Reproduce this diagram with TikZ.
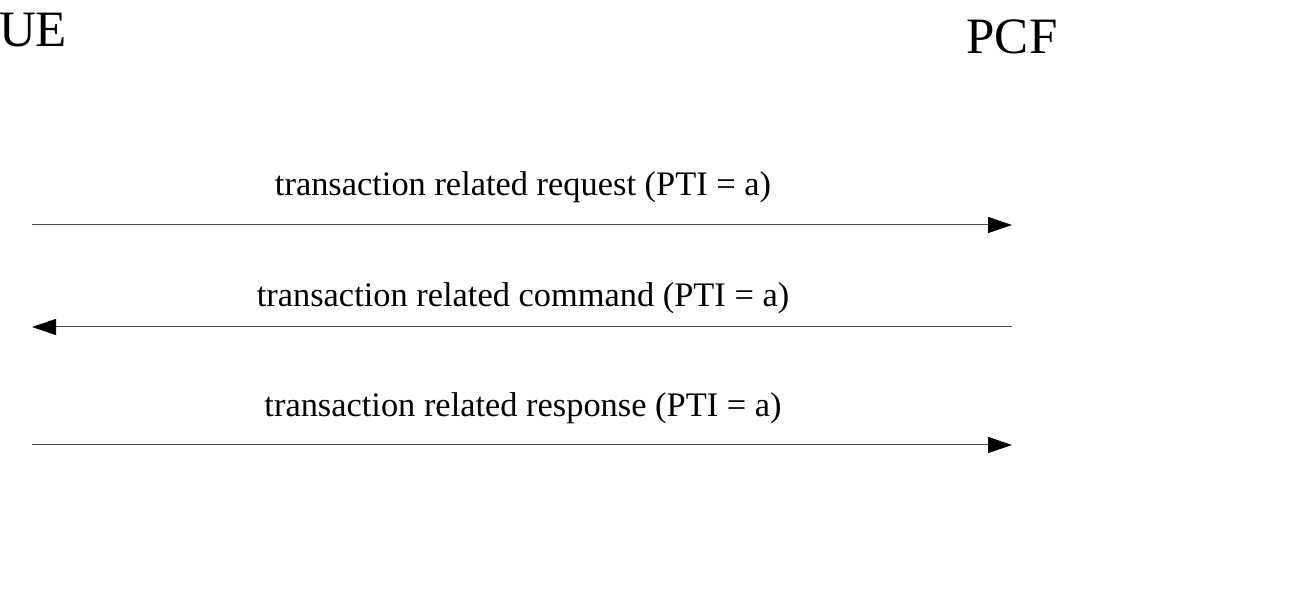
\documentclass[tikz,border=0pt]{standalone}
\usepackage{fontspec}
\setmainfont{Liberation Serif}
\usetikzlibrary{arrows.meta}
\begin{document}
\begin{tikzpicture}[x=0.5pt,y=-0.5pt]
% Styles
\tikzstyle{entite}=[font=\fontsize{25.5}{30}\selectfont,inner sep=0pt,anchor=base]
\tikzstyle{etiquette}=[font=\fontsize{17.2}{21}\selectfont,inner sep=0pt,anchor=base]
\tikzstyle{fleche}=[-{Triangle[length=12pt,width=8pt,color=black]},line width=0.5pt,draw=black!70]
% Dimensions
\def\gauche{32}
\def\droite{1012}
\def\milieu{523}
% Cadre
\useasboundingbox (0,0) rectangle (1301,613);
% Entites
\node[entite] (UE) at (\gauche+1,47) {UE};
\node[entite] (PCF) at (\droite,54) {PCF};
% Extremites des messages
\coordinate (ue1) at (\gauche,225);
\coordinate (pcf1) at (\droite,225);
\coordinate (ue2) at (\gauche,327);
\coordinate (pcf2) at (\droite,327);
\coordinate (ue3) at (\gauche,445);
\coordinate (pcf3) at (\droite,445);
% Messages
\node[etiquette] (requete) at (\milieu,196) {transaction related request (PTI = a)};
\draw[fleche] (ue1) -- (pcf1);
\node[etiquette] (commande) at (\milieu,307) {transaction related command (PTI = a)};
\draw[fleche] (pcf2) -- (ue2);
\node[etiquette] (reponse) at (\milieu,417) {transaction related response (PTI = a)};
\draw[fleche] (ue3) -- (pcf3);
\end{tikzpicture}
\end{document}
